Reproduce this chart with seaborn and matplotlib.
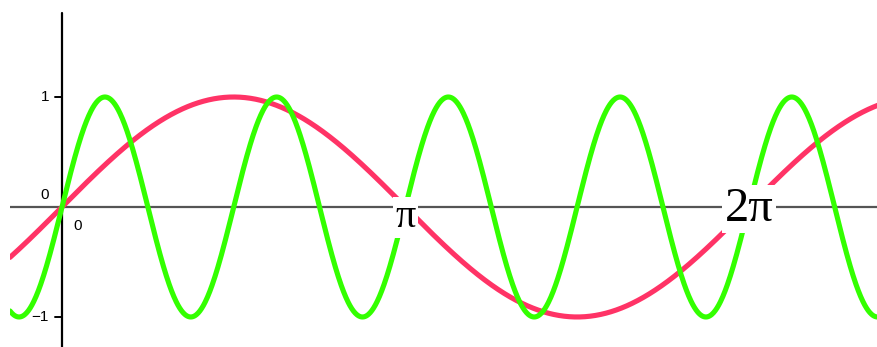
import numpy as np
import pandas as pd
import matplotlib
matplotlib.use("Agg")
import matplotlib.pyplot as plt
import seaborn as sns

# Curves y = sin(k·x) for the two frequencies shown
names = ["sin x", "sin 4x"]
frequencies = [1, 4]
colors = ["#ff3366", "#33ff00"]

# Axis labels
x_tick_values = [np.pi, 2 * np.pi]
x_tick_labels = ["π", "2π"]
x_tick_sizes = [29, 35]
x_label_baselines = [-0.18, -0.127]
y_tick_values = [1, -1]
y_tick_labels = ["1", "−1"]

x_min, x_max = -0.4757, 7.465
y_min, y_max = -1.273, 1.882

xs = np.linspace(x_min, x_max, 1500)
frames = []
for name, k in zip(names, frequencies):
    frames.append(pd.DataFrame({"x": xs, "y": np.sin(k * xs), "curve": name}))
df = pd.concat(frames, ignore_index=True)

sns.set_theme(style="white")
plt.rcParams["font.family"] = ["Liberation Sans", "DejaVu Sans"]

fig = plt.figure(figsize=(8.78, 3.47), dpi=100)
ax = fig.add_axes([10 / 878, 0, 868 / 878, 1])
ax.set_xlim(x_min, x_max)
ax.set_ylim(y_min, y_max)
ax.set_axis_off()

# coordinate axes
ax.plot([x_min, x_max], [0, 0], color="#555555", lw=1.6, zorder=1)
ax.plot([0, 0], [y_min, 1.764], color="black", lw=1.6, zorder=1)
for yv in y_tick_values:
    ax.plot([-0.065, 0], [yv, yv], color="black", lw=1.4, zorder=1)

sns.lineplot(data=df, x="x", y="y", hue="curve", palette=colors,
             linewidth=3.7, legend=False, ax=ax, zorder=3, sort=False,
             estimator=None)

# tick labels on the y axis
for yv, lab in zip(y_tick_values, y_tick_labels):
    ax.text(-0.12, yv, lab, ha="right", va="center", fontsize=11, color="black")
ax.text(-0.12, 0.11, "0", ha="right", va="center", fontsize=11, color="black")
ax.text(0.1, -0.17, "0", ha="left", va="center", fontsize=11, color="black")

# multiples of π on the x axis
for xv, lab, fs, yb in zip(x_tick_values, x_tick_labels, x_tick_sizes,
                           x_label_baselines):
    ax.text(xv, yb, lab, ha="center", va="baseline", fontsize=fs,
            family=["Liberation Serif", "DejaVu Serif"], color="black", zorder=5,
            bbox=dict(boxstyle="square,pad=0.05", fc="white", ec="none"))

fig.savefig("out.png", dpi=100)
